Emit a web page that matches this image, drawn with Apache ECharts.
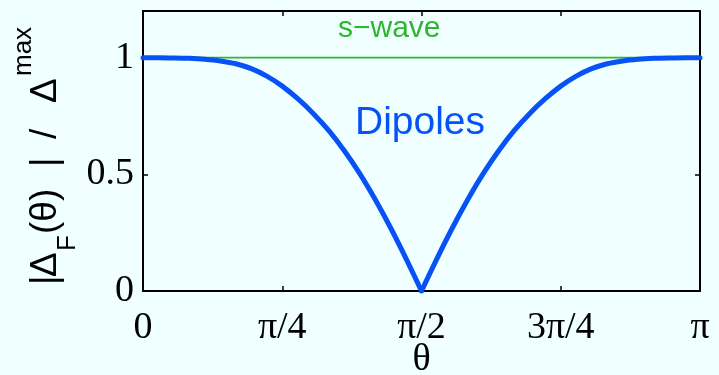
<!DOCTYPE html>
<html>
<head>
<meta charset="utf-8">
<script src="https://cdn.jsdelivr.net/npm/echarts@6/dist/echarts.min.js"></script>
<style>
  html, body { margin: 0; padding: 0; background: #f0ffff; }
  #chart { width: 719px; height: 375px; }
</style>
</head>
<body>
<div id="chart"></div>
<script>
// theta in degrees (0..180), labelled as fractions of pi
const thetaDeg = [0, 5, 10, 15, 20, 25, 30, 35, 40, 45, 50, 55, 60, 65, 70, 75, 80, 85, 90,
  95, 100, 105, 110, 115, 120, 125, 130, 135, 140, 145, 150, 155, 160, 165, 170, 175, 180]

const dipoles = [1.000, 1.000, 0.999, 0.997, 0.993, 0.986, 0.974, 0.953, 0.921, 0.878,
  0.824, 0.761, 0.688, 0.602, 0.504, 0.393, 0.271, 0.139, 0.000,
  0.139, 0.271, 0.393, 0.504, 0.602, 0.688, 0.761, 0.824, 0.878, 0.921,
  0.953, 0.974, 0.986, 0.993, 0.997, 0.999, 1.000, 1.000]

// faint white reference curve
const faint = [1.000, 0.996, 0.985, 0.966, 0.940, 0.906, 0.866, 0.819, 0.766, 0.707,
  0.643, 0.574, 0.500, 0.423, 0.342, 0.259, 0.174, 0.087, 0.000,
  0.087, 0.174, 0.259, 0.342, 0.423, 0.500, 0.574, 0.643, 0.707, 0.766,
  0.819, 0.866, 0.906, 0.940, 0.966, 0.985, 0.996, 1.000]

const sWave = [1, 1]
const sWaveTheta = [0, 180]

const xTickValues = [0, 45, 90, 135, 180]
const xTickLabels = ['0', 'π/4', 'π/2', '3π/4', 'π']
const yTickValues = [0, 0.5, 1]
const yTickLabels = ['0', '0.5', '1']

const blue = '#0652f5'
const green = '#2fb52f'
const serif = 'Liberation Serif'
const sans = 'Liberation Sans'

const pairs = (xs, ys) => xs.map((x, i) => [x, ys[i]])
// split at the cusp so smoothing keeps the V sharp
const dipoleLeft = pairs(thetaDeg, dipoles).filter(p => p[0] <= 90)
const dipoleRight = pairs(thetaDeg, dipoles).filter(p => p[0] >= 90)

const chart = echarts.init(document.getElementById('chart'), null, { renderer: 'canvas' })

const axisLine = { show: true, onZero: false, lineStyle: { color: '#000', width: 2 } }
const axisTick = { show: true, inside: true, length: 5, lineStyle: { color: '#000', width: 1.5 } }

// pieces of the rotated y-axis title, placed along the text direction
const yLabel = (text, x, y, size) => ({
  type: 'text', x: x, y: y,
  style: { text: text, font: size + 'px "' + sans + '"', fill: '#000', verticalAlign: 'middle', align: 'left' }
})

const blueLine = { color: blue, width: 5, cap: 'round', join: 'round' }

const option = {
  backgroundColor: '#f0ffff',
  animation: false,
  grid: { left: 143, right: 19, top: 11, bottom: 84, containLabel: false, outerBoundsMode: 'none' },
  xAxis: [
    {
      type: 'value', position: 'bottom', min: 0, max: 180, interval: 45,
      axisLine: axisLine, axisTick: axisTick, splitLine: { show: false },
      axisLabel: {
        color: '#000', fontFamily: serif, fontSize: 38, margin: 18,
        formatter: v => { const i = xTickValues.indexOf(v); return i < 0 ? '' : xTickLabels[i] }
      },
      name: 'θ', nameLocation: 'middle', nameGap: 50, nameMoveOverlap: false,
      nameTextStyle: { color: '#000', fontFamily: serif, fontSize: 38 }
    },
    {
      type: 'value', position: 'top', min: 0, max: 180, interval: 45,
      axisLine: axisLine, axisTick: axisTick, splitLine: { show: false },
      axisLabel: { show: false }
    }
  ],
  yAxis: [
    {
      type: 'value', position: 'left', min: 0, max: 1.2, interval: 0.5,
      axisLine: axisLine, axisTick: axisTick, splitLine: { show: false },
      axisLabel: {
        color: '#000', fontFamily: serif, fontSize: 38, margin: 9, showMaxLabel: false,
        padding: [10, 0, 0, 0],
        formatter: v => { const i = yTickValues.indexOf(v); return i < 0 ? '' : yTickLabels[i] }
      }
    },
    {
      type: 'value', position: 'right', min: 0, max: 1.2, interval: 0.5,
      axisLine: axisLine, axisTick: axisTick, splitLine: { show: false },
      axisLabel: { show: false }
    }
  ],
  series: [
    {
      type: 'line', data: pairs(thetaDeg, faint), showSymbol: false,
      lineStyle: { color: '#ffffff', width: 1 }, z: 1
    },
    {
      type: 'line', data: pairs(sWaveTheta, sWave), showSymbol: false,
      lineStyle: { color: green, width: 1.6 }, z: 2
    },
    { type: 'line', data: dipoleLeft, showSymbol: false, smooth: 0.3, lineStyle: blueLine, z: 3 },
    { type: 'line', data: dipoleRight, showSymbol: false, smooth: 0.3, lineStyle: blueLine, z: 3 }
  ],
  graphic: [
    {
      type: 'text', left: 338, top: 14,
      style: { text: 's−wave', font: '30px "' + sans + '"', fill: green }
    },
    {
      type: 'text', left: 355, top: 104,
      style: { text: 'Dipoles', font: '39px "' + sans + '"', fill: blue }
    },
    {
      type: 'group', x: 46, y: 285, rotation: Math.PI / 2,
      children: [
        yLabel('|', 0, 0, 37),
        yLabel('Δ', 8, 0, 37),
        yLabel('F', 34, 22, 26),
        yLabel('(θ)', 51, 0, 37),
        yLabel('|', 118, 0, 37),
        yLabel('/', 146, 0, 37),
        yLabel('Δ', 182, 0, 37),
        yLabel('max', 209, -22, 26)
      ]
    }
  ]
}

chart.setOption(option)
</script>
</body>
</html>
